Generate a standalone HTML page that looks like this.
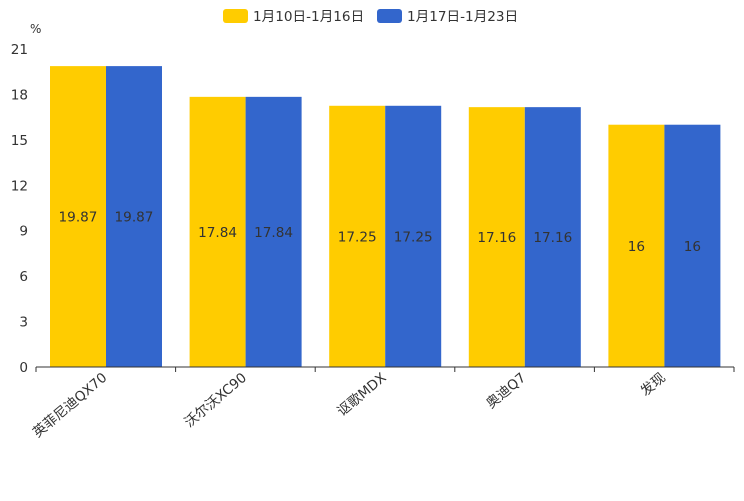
<!DOCTYPE html>
<html><head><meta charset="utf-8"><style>
body{margin:0;background:#fff;}
svg text{font-family:"DejaVu Sans","Noto Sans CJK SC",sans-serif;}
</style></head><body>
<svg id="chart" width="744" height="496" xmlns="http://www.w3.org/2000/svg">
<g id="legend">
 <g>
  <rect x="223" y="9" width="25" height="14" rx="3" fill="#ffcc00"/>
  <text x="253" y="21" font-size="13.6" fill="#333">1月10日-1月16日</text>
 </g>
 <g>
  <rect x="377" y="9" width="25" height="14" rx="3" fill="#3366cc"/>
  <text x="407" y="21" font-size="13.6" fill="#333">1月17日-1月23日</text>
 </g>
</g>
<text x="30" y="33" font-size="12" fill="#333">%</text>
<g id="plot"></g>
</svg>
<script>
const categories=["英菲尼迪QX70","沃尔沃XC90","讴歌MDX","奥迪Q7","发现"];
const series1=[19.87,17.84,17.25,17.16,16];
const series2=[19.87,17.84,17.25,17.16,16];
const yTicks=[0,3,6,9,12,15,18,21];
const NS="http://www.w3.org/2000/svg";
const g=document.getElementById('plot');
const x0=36,x1=734,y0=367,yTop=49,yMax=21;
const cw=(x1-x0)/categories.length;
const y=v=>y0-(v/yMax)*(y0-yTop);
function mk(t,a){const e=document.createElementNS(NS,t);for(const k in a)e.setAttribute(k,a[k]);g.appendChild(e);return e;}
yTicks.forEach(t=>{
 const e=mk('text',{x:28,y:y(t)+5,'font-size':13.6,fill:'#333','text-anchor':'end'});
 e.textContent=t;
 
 
});
categories.forEach((c,i)=>{
 const cx=x0+cw*i;
 [[series1,'#ffcc00',0],[series2,'#3366cc',1]].forEach(([s,col,j])=>{
  const bx=cx+14+56*j;
  const r=mk('rect',{x:bx,y:y(s[i]),width:56,height:y0-y(s[i]),fill:col});
  
  
  const t=mk('text',{x:bx+28,y:(y(s[i])+y0)/2+5,'font-size':13.6,fill:'#333','text-anchor':'middle'});
  t.textContent=s[i];
  
  
 });
 const l=mk('text',{x:0,y:0,'font-size':13.6,fill:'#333','text-anchor':'end',transform:`translate(${cx+cw/2+2},${y0+12}) rotate(-40)`});
 l.textContent=c;
 
 
});
for(let i=0;i<=categories.length;i++){
 const tk=mk('line',{x1:x0+cw*i,x2:x0+cw*i,y1:y0,y2:y0+5,stroke:'#333'});
 
 
}
const ax=mk('line',{x1:x0,x2:x1,y1:y0,y2:y0,stroke:'#333'});


</script>
</body></html>
